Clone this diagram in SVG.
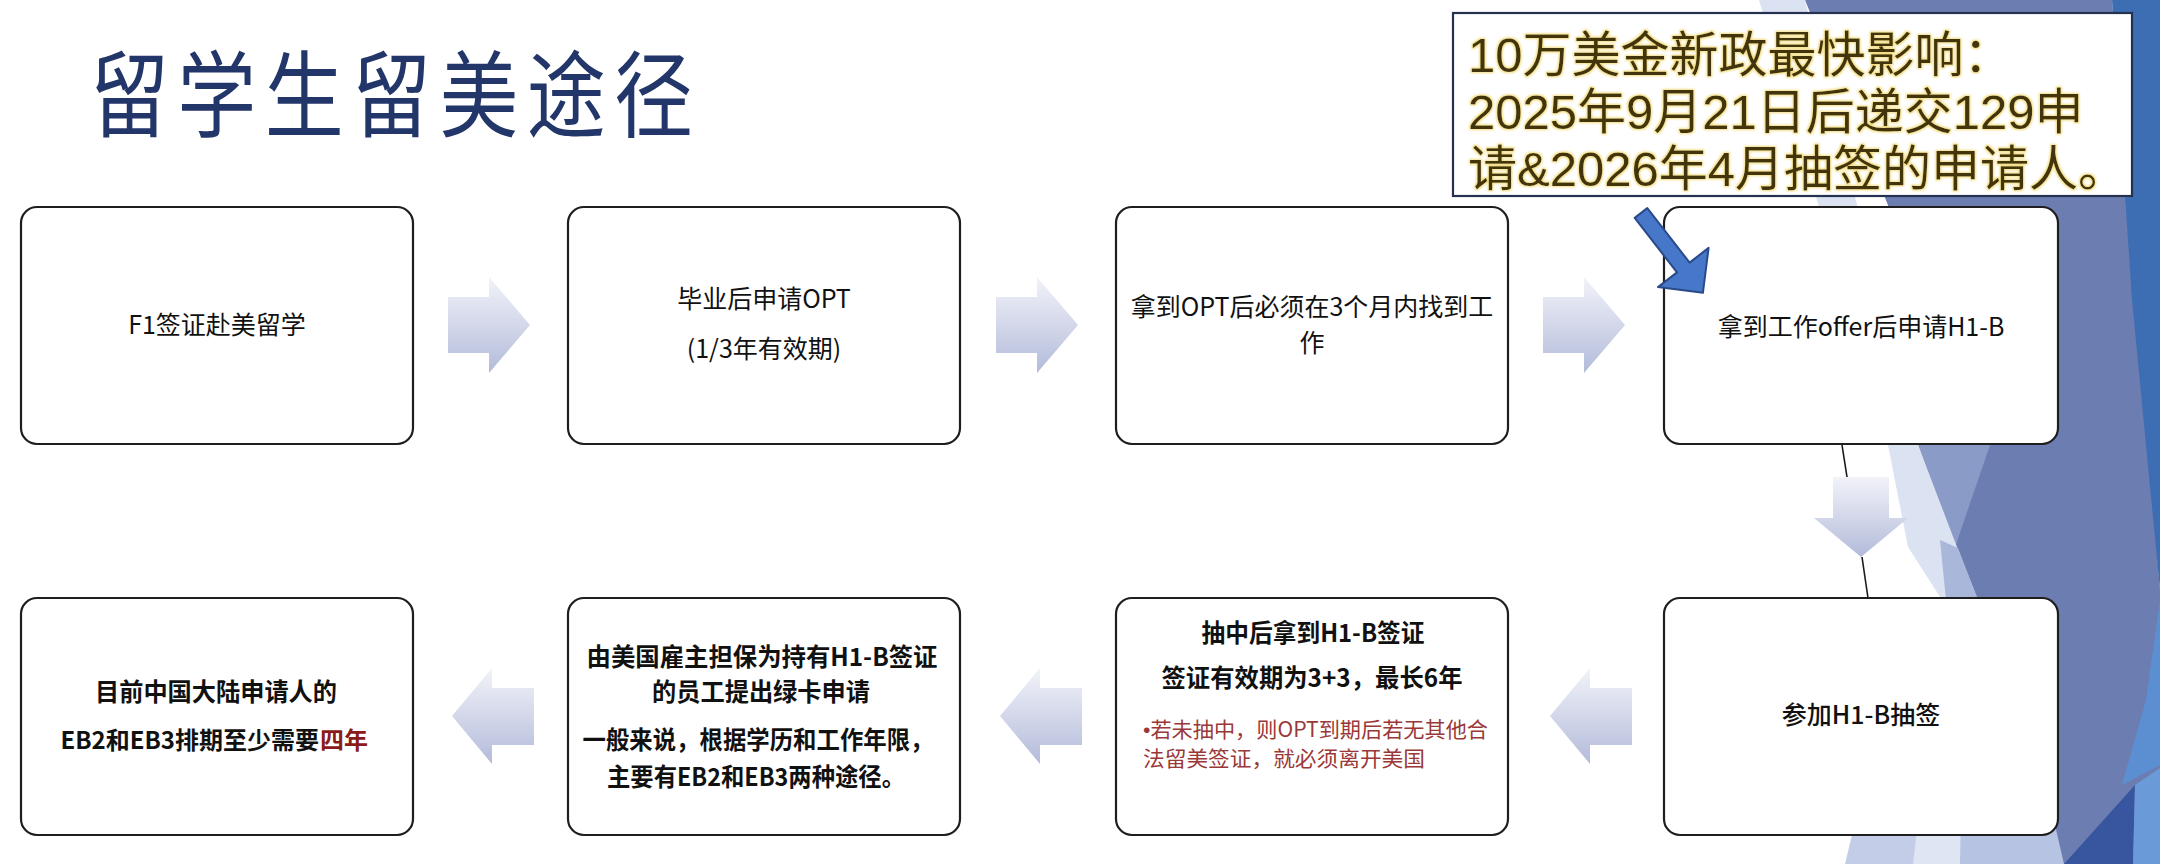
<svg xmlns="http://www.w3.org/2000/svg" width="2160" height="864" viewBox="0 0 2160 864">
<defs>
<linearGradient id="ag" x1="0" y1="0" x2="0" y2="1">
<stop offset="0" stop-color="#f2f3f9"/>
<stop offset="1" stop-color="#b3bbda"/>
</linearGradient>
<filter id="glow" x="-5%" y="-20%" width="110%" height="140%">
<feMorphology in="SourceAlpha" operator="dilate" radius="0.9" result="d"/>
<feGaussianBlur in="d" stdDeviation="1.1" result="b"/>
<feFlood flood-color="#f0d567" flood-opacity="0.85"/>
<feComposite in2="b" operator="in" result="g"/>
<feMerge><feMergeNode in="g"/><feMergeNode in="SourceGraphic"/></feMerge>
</filter>
<style>
.box{fill:#fff;stroke:#1e1e1e;stroke-width:2.2}
.t{font-family:"Noto Sans CJK SC","Noto Sans",sans-serif;font-size:25px;fill:#111;text-anchor:middle}
.b{font-weight:bold}
.r{font-family:"Noto Sans CJK SC","Noto Sans",sans-serif;font-size:21px;fill:#9a3838;text-anchor:start}
.blk{fill:url(#ag)}
.ln{fill:none;stroke:#1a1a1a;stroke-width:1.6}
.co{font-family:"Liberation Sans","Noto Sans CJK SC",sans-serif;font-size:49px;fill:#43360f}
</style>
</defs>
<rect width="2160" height="864" fill="#ffffff"/>
<g id="background">
<polygon points="1805,0 2112,0 2160,590 2160,864 1990,864 1975,600 1955,547 1985,445" fill="#6c7db2"/>
<polygon points="1860,260 1995,420 1990,445 1955,547 1918,445" fill="#8b9bc7"/>
<polygon points="1759,0 1805,0 1918,445 1957,547 1978,600 1942,600 1908,547 1888,445" fill="#dbe2f1"/>
<polygon points="1940,540 1958,548 1978,600 1946,600" fill="#a9b7da"/>
<polygon points="1845,864 1870,760 1925,760 1960,864" fill="#c3cde8"/>
<polygon points="1913,864 1925,760 1960,760 1962,864" fill="#dfe5f3"/>
<polygon points="1960,864 1962,760 2040,760 2064,864" fill="#b6c3e2"/>
<polygon points="2112,0 2160,0 2160,590 2132,300" fill="#3d6eb3"/>
<polygon points="2160,600 2146,700 2122,785 2160,765" fill="#5c8fd2"/>
<polygon points="2064,864 2135,785 2133,864" fill="#38569f"/>
<polygon points="2133,864 2135,785 2160,768 2160,864" fill="#6a9ad8"/>
</g>
<g id="title">
<text transform="translate(90,130) scale(0.84,1)" font-family="'Noto Sans CJK SC','Noto Sans',sans-serif" font-size="94" fill="#23366a" letter-spacing="10">留学生留美途径</text>
</g>
<g id="callout">
<rect x="1453" y="13" width="679" height="183" fill="#ffffff" stroke="#24324f" stroke-width="2.2"/>
<g filter="url(#glow)">
<text class="co" x="1468" y="72">10万美金新政最快影响：</text>
<text class="co" x="1468" y="129">2025年9月21日后递交129申</text>
<text class="co" x="1468" y="186">请&amp;2026年4月抽签的申请人。</text>
</g>
</g>
<g id="connectors">
<polygon class="blk" points="448,297 489,297 489,277 530,325 489,373 489,353 448,353"/>
<polygon class="blk" points="996,297 1037,297 1037,277 1078,325 1037,373 1037,353 996,353"/>
<polygon class="blk" points="1543,297 1584,297 1584,277 1625,325 1584,373 1584,353 1543,353"/>
<polygon class="blk" points="1833,477 1889,477 1889,518 1908,518 1861,557 1814,518 1833,518"/>
<polygon class="blk" points="1550,716 1590,668 1590,688 1632,688 1632,745 1590,745 1590,764"/>
<polygon class="blk" points="1000,716 1040,668 1040,688 1082,688 1082,745 1040,745 1040,764"/>
<polygon class="blk" points="452,716 492,668 492,688 534,688 534,745 492,745 492,764"/>
<line class="ln" x1="1842" y1="445" x2="1847" y2="477"/>
<line class="ln" x1="1862" y1="557" x2="1868" y2="598"/>
</g>
<g id="n1">
<rect class="box" x="21" y="207" width="392" height="237" rx="16"/>
<text class="t" x="217" y="334">F1签证赴美留学</text>
</g>
<g id="n2">
<rect class="box" x="568" y="207" width="392" height="237" rx="16"/>
<text class="t" x="764" y="308">毕业后申请OPT</text>
<text class="t" x="764" y="358">(1/3年有效期)</text>
</g>
<g id="n3">
<rect class="box" x="1116" y="207" width="392" height="237" rx="16"/>
<text class="t" x="1312" y="316">拿到OPT后必须在3个月内找到工</text>
<text class="t" x="1312" y="352">作</text>
</g>
<g id="n4">
<rect class="box" x="1664" y="207" width="394" height="237" rx="16"/>
<text class="t" x="1861" y="336">拿到工作offer后申请H1-B</text>
</g>
<g id="n8">
<rect class="box" x="1664" y="598" width="394" height="237" rx="16"/>
<text class="t" x="1861" y="724" font-weight="500">参加H1-B抽签</text>
</g>
<g id="n7">
<rect class="box" x="1116" y="598" width="392" height="237" rx="16"/>
<text class="t b" x="1313" y="642" textLength="223" lengthAdjust="spacingAndGlyphs">抽中后拿到H1-B签证</text>
<text class="t b" x="1312" y="687" textLength="301" lengthAdjust="spacingAndGlyphs">签证有效期为3+3，最长6年</text>
<text class="r" x="1143" y="737" textLength="345" lengthAdjust="spacingAndGlyphs"><tspan font-family="'Liberation Sans',sans-serif">•</tspan>若未抽中，则OPT到期后若无其他合</text>
<text class="r" x="1143" y="766" textLength="282" lengthAdjust="spacingAndGlyphs">法留美签证，就必须离开美国</text>
</g>
<g id="n6">
<rect class="box" x="568" y="598" width="392" height="237" rx="16"/>
<text class="t b" x="762" y="666" textLength="351" lengthAdjust="spacingAndGlyphs">由美国雇主担保为持有H1-B签证</text>
<text class="t b" x="761" y="701" textLength="218" lengthAdjust="spacingAndGlyphs">的员工提出绿卡申请</text>
<text class="t b" x="758" y="749" textLength="351" lengthAdjust="spacingAndGlyphs">一般来说，根据学历和工作年限，</text>
<text class="t b" x="756" y="786" textLength="298" lengthAdjust="spacingAndGlyphs">主要有EB2和EB3两种途径。</text>
</g>
<g id="n5">
<rect class="box" x="21" y="598" width="392" height="237" rx="16"/>
<text class="t b" x="216" y="701" textLength="242" lengthAdjust="spacingAndGlyphs">目前中国大陆申请人的</text>
<text class="t b" x="319" y="749" style="font-size:24px;text-anchor:end">EB2和EB3排期至少需要</text>
<text class="t b" x="320" y="749" style="font-size:24px;text-anchor:start;fill:#8b1a1a">四年</text>
</g>
<g id="highlight-arrow">
<polygon points="1634.7,217.9 1647.3,208.1 1689.6,262.6 1708.6,247.9 1702.9,292.8 1658,287.1 1677,272.4" fill="#4677c8" stroke="#2a4b8a" stroke-width="2" stroke-linejoin="round"/>
</g>
</svg>
